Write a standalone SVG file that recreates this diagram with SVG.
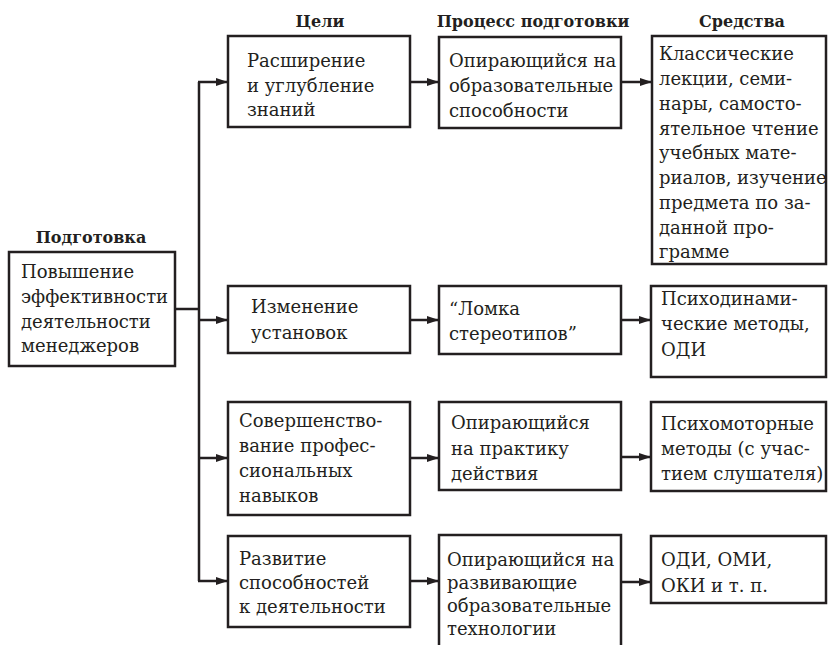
<svg xmlns="http://www.w3.org/2000/svg" width="828" height="645" viewBox="0 0 828 645">
<defs>
<marker id="ah" markerUnits="userSpaceOnUse" markerWidth="12" markerHeight="8" refX="12" refY="4" orient="auto">
<path d="M0,0 L12,4 L0,8 z" fill="#231f20"/>
</marker>
<style>
.box{fill:#fff;stroke:#231f20;stroke-width:2.5}
.t{font-family:"DejaVu Serif","Liberation Serif",serif;font-size:18px;fill:#231f20}
.h{font-family:"DejaVu Serif","Liberation Serif",serif;font-size:16px;font-weight:bold;fill:#231f20;text-anchor:middle}
.c{fill:none;stroke:#231f20;stroke-width:2.5}
.a{fill:none;stroke:#231f20;stroke-width:2.5;marker-end:url(#ah)}
</style>
</defs>
<rect width="828" height="645" fill="#fff"/>
<g id="headers">
<text class="h" x="320" y="27">Цели</text>
<text class="h" x="533" y="27">Процесс подготовки</text>
<text class="h" x="742" y="27">Средства</text>
<text class="h" x="91" y="243">Подготовка</text>
</g>
<g id="connectors">
<path class="c" d="M175,309 H199"/>
<path class="c" d="M199,82 V581"/>
<path class="a" d="M198,82 H228"/>
<path class="a" d="M199,320 H228"/>
<path class="a" d="M199,458 H228"/>
<path class="a" d="M198,581 H228"/>
<path class="a" d="M410,82 H439"/>
<path class="a" d="M410,320 H439"/>
<path class="a" d="M410,458 H439"/>
<path class="a" d="M410,581 H439"/>
<path class="a" d="M621,82 H652"/>
<path class="a" d="M621,320 H651"/>
<path class="a" d="M621,457 H651"/>
<path class="a" d="M621,582 H651"/>
</g>
<g id="node-main">
<rect class="box" x="9" y="252" width="166" height="114"/>
<text class="t" x="21" y="278">Повышение</text>
<text class="t" x="21" y="303">эффективности</text>
<text class="t" x="21" y="328">деятельности</text>
<text class="t" x="21" y="352">менеджеров</text>
</g>
<g id="goal-1">
<rect class="box" x="228" y="36" width="182" height="91"/>
<text class="t" x="247" y="67">Расширение</text>
<text class="t" x="247" y="92">и углубление</text>
<text class="t" x="247" y="116">знаний</text>
</g>
<g id="goal-2">
<rect class="box" x="228" y="286" width="182" height="67"/>
<text class="t" x="251" y="313">Изменение</text>
<text class="t" x="251" y="339">установок</text>
</g>
<g id="goal-3">
<rect class="box" x="228" y="402" width="182" height="113"/>
<text class="t" x="239" y="427">Совершенство-</text>
<text class="t" x="239" y="452">вание профес-</text>
<text class="t" x="239" y="477">сиональных</text>
<text class="t" x="239" y="502">навыков</text>
</g>
<g id="goal-4">
<rect class="box" x="228" y="536" width="182" height="91"/>
<text class="t" x="239" y="565">Развитие</text>
<text class="t" x="239" y="589">способностей</text>
<text class="t" x="239" y="613">к деятельности</text>
</g>
<g id="process-1">
<rect class="box" x="439" y="37" width="182" height="91"/>
<text class="t" x="449" y="67">Опирающийся на</text>
<text class="t" x="449" y="92">образовательные</text>
<text class="t" x="449" y="117">способности</text>
</g>
<g id="process-2">
<rect class="box" x="439" y="286" width="182" height="68"/>
<text class="t" x="449" y="315">“Ломка</text>
<text class="t" x="449" y="340">стереотипов”</text>
</g>
<g id="process-3">
<rect class="box" x="439" y="402" width="182" height="88"/>
<text class="t" x="451" y="429">Опирающийся</text>
<text class="t" x="451" y="455">на практику</text>
<text class="t" x="451" y="480">действия</text>
</g>
<g id="process-4">
<rect class="box" x="439" y="535" width="182" height="130"/>
<text class="t" x="447" y="566">Опирающийся на</text>
<text class="t" x="447" y="589">развивающие</text>
<text class="t" x="447" y="612">образовательные</text>
<text class="t" x="447" y="635">технологии</text>
</g>
<g id="means-1">
<rect class="box" x="652" y="36" width="174" height="228"/>
<text class="t" x="659" y="60">Классические</text>
<text class="t" x="659" y="85">лекции, семи-</text>
<text class="t" x="659" y="110">нары, самосто-</text>
<text class="t" x="659" y="135">ятельное чтение</text>
<text class="t" x="659" y="159">учебных мате-</text>
<text class="t" x="659" y="184">риалов, изучение</text>
<text class="t" x="659" y="209">предмета по за-</text>
<text class="t" x="659" y="234">данной про-</text>
<text class="t" x="659" y="258">грамме</text>
</g>
<g id="means-2">
<rect class="box" x="651" y="286" width="175" height="91"/>
<text class="t" x="661" y="305">Психодинами-</text>
<text class="t" x="661" y="330">ческие методы,</text>
<text class="t" x="661" y="356">ОДИ</text>
</g>
<g id="means-3">
<rect class="box" x="651" y="402" width="175" height="89"/>
<text class="t" x="661" y="430">Психомоторные</text>
<text class="t" x="661" y="455">методы (с учас-</text>
<text class="t" x="661" y="480">тием слушателя)</text>
</g>
<g id="means-4">
<rect class="box" x="651" y="536" width="175" height="67"/>
<text class="t" x="661" y="566">ОДИ, ОМИ,</text>
<text class="t" x="661" y="592">ОКИ и т. п.</text>
</g>
</svg>
